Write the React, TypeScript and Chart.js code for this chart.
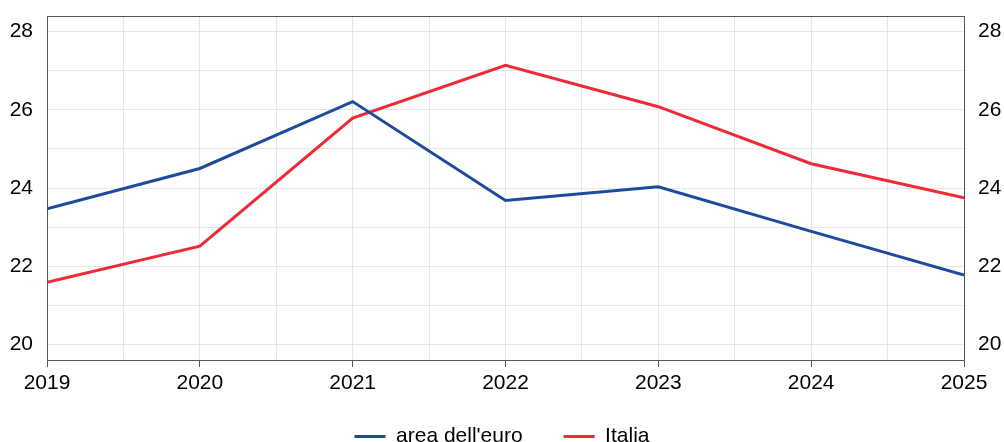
import React, { useEffect, useRef } from "react";
import { Chart, registerables } from "chart.js";

Chart.register(...registerables);

const years = [2019, 2020, 2021, 2022, 2023, 2024, 2025];
const areaEuro = [23.47, 24.5, 26.21, 23.68, 24.03, 22.89, 21.77];
const italia = [21.59, 22.51, 25.79, 27.14, 26.08, 24.62, 23.75];
const yGridValues = [20, 21, 22, 23, 24, 25, 26, 27, 28];
const xGridValues = [2019, 2019.5, 2020, 2020.5, 2021, 2021.5, 2022, 2022.5, 2023, 2023.5, 2024, 2024.5, 2025];

const FONT = "'Liberation Sans', Arial, sans-serif";
const BLUE = "#1d4a9a";
const RED = "#ee2a36";
const AXIS = "#555555";
const GRID = "#e6e6e6";

const boxPlugin = {
  id: "boxPlugin",
  afterDraw(chart: any) {
    const { ctx, chartArea } = chart;
    ctx.save();
    ctx.strokeStyle = AXIS;
    ctx.lineWidth = 1;
    ctx.beginPath();
    ctx.moveTo(chartArea.left, chartArea.top + 0.5);
    ctx.lineTo(chartArea.right, chartArea.top + 0.5);
    ctx.stroke();
    ctx.restore();
  },
};

const fixScale = (scale: any) => {
  scale.paddingTop = 0;
  scale.paddingBottom = 0;
  scale.paddingLeft = 0;
  scale.paddingRight = 0;
  scale._computeLabelArea = () => undefined;
};

export default function App() {
  const ref = useRef<HTMLCanvasElement | null>(null);
  useEffect(() => {
    document.body.style.margin = "0";
    const c = new Chart(ref.current as HTMLCanvasElement, {
      type: "line",
      data: {
        datasets: [
          {
            label: "area dell'euro",
            data: years.map((y, i) => ({ x: y, y: areaEuro[i] })),
            borderColor: BLUE,
            backgroundColor: BLUE,
            borderWidth: 3,
            pointRadius: 0,
            tension: 0,
          },
          {
            label: "Italia",
            data: years.map((y, i) => ({ x: y, y: italia[i] })),
            borderColor: RED,
            backgroundColor: RED,
            borderWidth: 3,
            pointRadius: 0,
            tension: 0,
          },
        ],
      },
      options: {
        animation: false,
        responsive: false,
        maintainAspectRatio: false,
        layout: { padding: { top: 16, left: 0, right: 0, bottom: -15 } },
        plugins: {
          tooltip: { enabled: false },
          legend: {
            position: "bottom",
            labels: {
              usePointStyle: true,
              pointStyle: "line",
              pointStyleWidth: 31,
              color: "#000",
              font: { family: FONT, size: 21 },
              padding: 41,
            },
          },
        },
        scales: {
          x: {
            type: "linear",
            min: 2019,
            max: 2025,
            afterBuildTicks: (axis: any) => {
              axis.ticks = xGridValues.map((v) => ({ value: v }));
            },
            afterFit: (scale: any) => {
              fixScale(scale);
              scale.height = 25;
            },
            ticks: {
              autoSkip: false,
              maxRotation: 0,
              color: "#000",
              font: { family: FONT, size: 21 },
              padding: 4,
              callback: (v: any) => (Number.isInteger(Number(v)) ? String(v) : ""),
            },
            grid: {
              color: GRID,
              tickLength: 7,
              tickColor: (ctx: any) =>
                ctx.tick && Number.isInteger(ctx.tick.value) ? AXIS : "rgba(0,0,0,0)",
            },
            border: { color: AXIS, width: 1 },
          },
          y: {
            position: "left",
            min: 19.6,
            max: 28.4,
            afterBuildTicks: (axis: any) => {
              axis.ticks = yGridValues.map((v) => ({ value: v }));
            },
            afterFit: (scale: any) => {
              fixScale(scale);
              scale.width = 47;
            },
            ticks: {
              color: "#000",
              font: { family: FONT, size: 21 },
              padding: 14,
              callback: (v: any) => (Number(v) % 2 === 0 ? String(v) : ""),
            },
            grid: { color: GRID, drawTicks: false },
            border: { color: AXIS, width: 1 },
          },
          y2: {
            position: "right",
            min: 19.6,
            max: 28.4,
            afterBuildTicks: (axis: any) => {
              axis.ticks = yGridValues.map((v) => ({ value: v }));
            },
            afterFit: (scale: any) => {
              fixScale(scale);
              scale.width = 40;
            },
            ticks: {
              color: "#000",
              font: { family: FONT, size: 21 },
              padding: 14,
              callback: (v: any) => (Number(v) % 2 === 0 ? String(v) : ""),
            },
            grid: { drawOnChartArea: false, drawTicks: false },
            border: { color: AXIS, width: 1 },
          },
        },
      },
      plugins: [boxPlugin],
    } as any);
    return () => c.destroy();
  }, []);
  return (
    <div style={{ width: 1004, height: 442 }}>
      <canvas ref={ref} width={1004} height={442} style={{ display: "block" }} />
    </div>
  );
}
